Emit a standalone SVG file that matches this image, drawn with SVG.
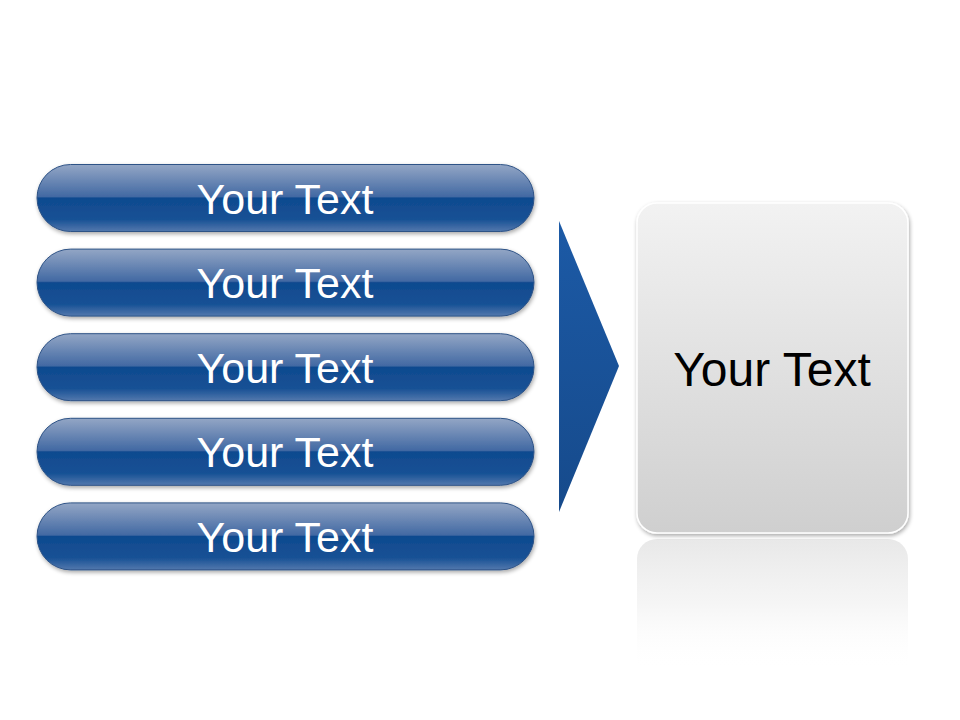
<svg xmlns="http://www.w3.org/2000/svg" width="960" height="720" viewBox="0 0 960 720">
  <defs>
    <linearGradient id="pillGrad" x1="0" y1="0" x2="0" y2="1">
      <stop offset="0" stop-color="#93a6c5"/>
      <stop offset="0.48" stop-color="#4269a3"/>
      <stop offset="0.5" stop-color="#0f4a8f"/>
      <stop offset="0.82" stop-color="#175195"/>
      <stop offset="1" stop-color="#5378ad"/>
    </linearGradient>
    <linearGradient id="arrowGrad" x1="0" y1="0" x2="0" y2="1">
      <stop offset="0" stop-color="#1c5aa6"/>
      <stop offset="1" stop-color="#164a8b"/>
    </linearGradient>
    <linearGradient id="boxGrad" x1="0" y1="0" x2="0" y2="1">
      <stop offset="0" stop-color="#f2f2f2"/>
      <stop offset="1" stop-color="#cfcfcf"/>
    </linearGradient>
    <linearGradient id="reflGrad" x1="0" y1="0" x2="0" y2="1">
      <stop offset="0" stop-color="#e8e8e8" stop-opacity="1"/>
      <stop offset="0.5" stop-color="#f3f3f3" stop-opacity="0.8"/>
      <stop offset="1" stop-color="#ffffff" stop-opacity="0"/>
    </linearGradient>
    <filter id="shadow" x="-10%" y="-20%" width="120%" height="150%">
      <feGaussianBlur in="SourceAlpha" stdDeviation="2"/>
      <feOffset dx="1" dy="2" result="b"/>
      <feComponentTransfer><feFuncA type="linear" slope="0.35"/></feComponentTransfer>
      <feMerge><feMergeNode/><feMergeNode in="SourceGraphic"/></feMerge>
    </filter>
  </defs>
  <style>
    .pill { fill: url(#pillGrad); stroke: #2d5286; stroke-width: 1; filter: url(#shadow); }
    .pillText { font-family: "Liberation Sans", Arial, sans-serif; font-size: 43px; fill: #ffffff; text-anchor: middle; }
    .boxText { font-family: "Liberation Sans", Arial, sans-serif; font-size: 48px; fill: #000000; text-anchor: middle; }
  </style>
  <rect width="960" height="720" fill="#ffffff"/>

  <g id="item1">
    <rect class="pill" x="37" y="164.5" width="497" height="67" rx="33.5"/>
    <text class="pillText" x="285" y="213.5">Your Text</text>
  </g>
  <g id="item2">
    <rect class="pill" x="37" y="249.1" width="497" height="67" rx="33.5"/>
    <text class="pillText" x="285" y="298.1">Your Text</text>
  </g>
  <g id="item3">
    <rect class="pill" x="37" y="333.7" width="497" height="67" rx="33.5"/>
    <text class="pillText" x="285" y="382.7">Your Text</text>
  </g>
  <g id="item4">
    <rect class="pill" x="37" y="418.3" width="497" height="67" rx="33.5"/>
    <text class="pillText" x="285" y="467.3">Your Text</text>
  </g>
  <g id="item5">
    <rect class="pill" x="37" y="502.9" width="497" height="67" rx="33.5"/>
    <text class="pillText" x="285" y="551.9">Your Text</text>
  </g>

  <g id="connectors">
    <polygon points="559,221 619,366 559,512" fill="url(#arrowGrad)"/>
  </g>

  <g id="result">
    <path d="M657,539 H888 A20,20 0 0 1 908,559 V670 H637 V559 A20,20 0 0 1 657,539 Z" fill="url(#reflGrad)"/>
    <rect x="637" y="203" width="271" height="330" rx="20" fill="url(#boxGrad)" stroke="#ffffff" stroke-width="1.5" filter="url(#shadow)"/>
    <text class="boxText" x="772" y="386">Your Text</text>
  </g>
</svg>
